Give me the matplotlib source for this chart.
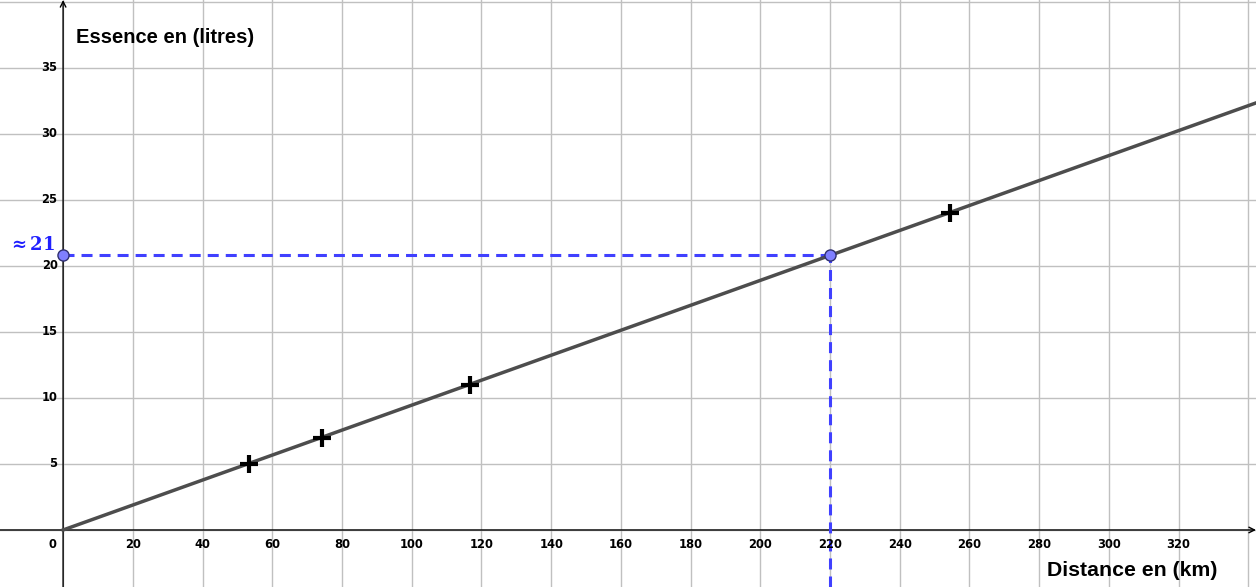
import matplotlib.pyplot as plt

plt.rcParams["font.family"] = ["DejaVu Sans"]

# data
dist_km = [53.4, 74.3, 116.8, 254.4]
essence_l = [5, 7, 11, 24]
slope = 20.8 / 220          # line through the origin
read_x = 220
read_y = 20.8

x_ticks = list(range(20, 340, 20))
y_ticks = list(range(5, 40, 5))

xmin, xmax = -18.1, 342.2
ymin, ymax = -4.32, 40.15

fig = plt.figure(figsize=(12.56, 5.87), dpi=100)
ax = fig.add_axes([0, 0, 1, 1])
ax.set_xlim(xmin, xmax)
ax.set_ylim(ymin, ymax)
ax.axis("off")

# grid
for gx in range(-20, 360, 20):
    ax.axvline(gx, color="#c0c0c0", lw=1, zorder=0)
for gy in range(-5, 45, 5):
    ax.axhline(gy, color="#c0c0c0", lw=1, zorder=0)

# axes with arrows
ax.annotate("", xy=(xmax, 0), xytext=(xmin, 0),
            arrowprops=dict(arrowstyle="->", color="black", lw=1, shrinkA=0, shrinkB=0), zorder=1)
ax.annotate("", xy=(0, ymax), xytext=(0, ymin),
            arrowprops=dict(arrowstyle="->", color="black", lw=1, shrinkA=0, shrinkB=0), zorder=1)

# tick labels
for t in x_ticks:
    ax.text(t, -0.6, str(t), ha="center", va="top", fontsize=8.3, fontweight="bold")
ax.text(-3.2, -0.6, "0", ha="center", va="top", fontsize=8.3, fontweight="bold")
for t in y_ticks:
    ax.text(-1.6, t, str(t), ha="right", va="center", fontsize=8.3, fontweight="bold")

# axis titles
ax.text(3.7, 37.3, "Essence en (litres)", ha="left", va="center", fontsize=14.5,
        fontweight="bold", family="Liberation Sans")
ax.text(331, -3.1, "Distance en (km)", ha="right", va="center", fontsize=15.3,
        fontweight="bold", family="Liberation Sans")

# proportional line
ax.plot([0, xmax], [0, slope * xmax], color="#4d4d4d", lw=2.5, zorder=3)

# reading at 220 km
ax.plot([0, read_x], [read_y, read_y], color="#4040ff", lw=2.2, dashes=(3.6, 2.3), zorder=2)
ax.plot([read_x, read_x], [ymin, read_y], color="#4040ff", lw=2.2, dashes=(3.6, 2.3), zorder=2)
ax.plot([0, read_x], [read_y, read_y], "o", ms=8, mfc="#7f7fff", mec="#303070", mew=1, zorder=5)
ax.text(-2.3, 21.6, r"$\mathbf{\approx 21}$", ha="right", va="center", fontsize=13,
        color="#2020ff", math_fontfamily="dejavuserif")

# measured points
ax.scatter(dist_km, essence_l, marker="+", s=150, color="black", linewidths=3, zorder=6)

fig.savefig("out.png", dpi=100)
